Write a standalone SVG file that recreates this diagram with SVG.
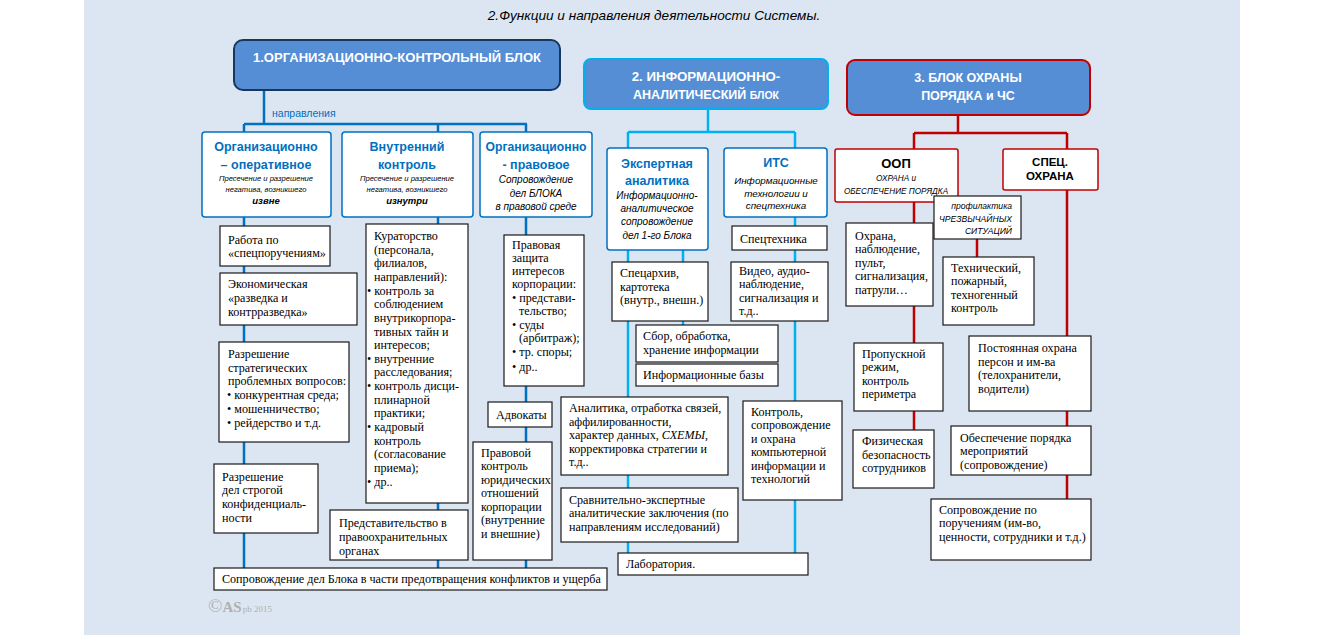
<svg xmlns="http://www.w3.org/2000/svg" width="1324" height="635" viewBox="0 0 1324 635">
<style>
.blk{fill:#558ed5;stroke-width:2}
.bt{font-family:"Liberation Sans",Arial,sans-serif;font-weight:bold;fill:#fff;text-anchor:middle;font-size:12.5px}
.hb{fill:#fff;stroke:#0070c0;stroke-width:1.5}
.hr{fill:#fff;stroke:#c00000;stroke-width:1.5}
.bx{fill:#fff;stroke:#1a1a1a;stroke-width:1.2}
.ht{font-family:"Liberation Sans",Arial,sans-serif;font-weight:bold;font-size:12.5px;fill:#0070c0;text-anchor:middle}
.hk{font-family:"Liberation Sans",Arial,sans-serif;font-weight:bold;font-size:13px;fill:#000;text-anchor:middle}
.it{font-family:"Liberation Sans",Arial,sans-serif;font-style:italic;font-size:7.6px;fill:#000;text-anchor:middle}
.it2{font-family:"Liberation Sans",Arial,sans-serif;font-style:italic;font-size:10px;fill:#000;text-anchor:middle}
.tx{font-family:"Liberation Serif","Times New Roman",serif;font-size:12.1px;fill:#000}
.l1{stroke:#0070c0;stroke-width:2.5;fill:none}
.l2{stroke:#00b0f0;stroke-width:2.5;fill:none}
.l3{stroke:#c00000;stroke-width:2.5;fill:none}
</style>
<rect x="84" y="0" width="1156" height="635" fill="#dce6f2"/>
<text x="654" y="20" font-family="Liberation Sans, Arial, sans-serif" font-style="italic" font-size="13.6" text-anchor="middle" fill="#000">2.Функции и направления деятельности Системы.</text>

<g id="connectors">
<path class="l1" d="M264,89 V124 M244,124 H527 M244,124 V568 M438,124 V568 M526,124 V568"/>
<path class="l2" d="M708,109 V132 M628,132 H795 M628,132 V553 M795,132 V553 M683,250 V325"/>
<path class="l3" d="M958,115 V133 M914,133 H1067 M914,133 V430 M1067,133 V499 M977,239 V257"/>
</g>
<text x="272" y="117" font-family="Liberation Sans, Arial, sans-serif" font-size="10.5" fill="#0070c0">направления</text>

<g id="block1">
<rect class="blk" x="234" y="40" width="326" height="50" rx="9" stroke="#17375e"/>
<text class="bt" x="397" y="62" textLength="288" lengthAdjust="spacingAndGlyphs">1.ОРГАНИЗАЦИОННО-КОНТРОЛЬНЫЙ БЛОК</text>
</g>
<g id="block2">
<rect class="blk" x="584" y="59" width="244" height="50" rx="7" stroke="#00b0f0"/>
<text class="bt" x="706" y="81" style="font-size:13.3px">2. ИНФОРМАЦИОННО-</text>
<text class="bt" x="706" y="99">АНАЛИТИЧЕСКИЙ <tspan style="font-size:10.5px">БЛОК</tspan></text>
</g>
<g id="block3">
<rect class="blk" x="847" y="60" width="243" height="55" rx="8" stroke="#c00000"/>
<text class="bt" x="968" y="82">3. БЛОК ОХРАНЫ</text>
<text class="bt" x="968" y="100">ПОРЯДКА и ЧС</text>
</g>

<g id="org-oper">
<rect class="hb" x="202" y="132" width="129" height="85" rx="3"/>
<text class="ht" x="266" y="151">Организационно</text>
<text class="ht" x="266" y="169">– оперативное</text>
<text class="it" x="266" y="181">Пресечение и  разрешение</text>
<text class="it" x="266" y="192">негатива, возникшего</text>
<text class="it" x="266" y="204" style="font-weight:bold;font-size:9.5px">извне</text>
</g>
<g id="vnutr">
<rect class="hb" x="342" y="132" width="131" height="85" rx="3"/>
<text class="ht" x="407" y="151">Внутренний</text>
<text class="ht" x="407" y="169">контроль</text>
<text class="it" x="407" y="181">Пресечение и  разрешение</text>
<text class="it" x="407" y="192">негатива, возникшего</text>
<text class="it" x="407" y="204" style="font-weight:bold;font-size:9.5px">изнутри</text>
</g>
<g id="org-prav">
<rect class="hb" x="480" y="132" width="112" height="85" rx="3"/>
<text class="ht" x="536" y="151" style="font-size:12.2px">Организационно</text>
<text class="ht" x="536" y="169">- правовое</text>
<text class="it2" x="536" y="183">Сопровождение</text>
<text class="it2" x="536" y="197">дел БЛОКА</text>
<text class="it2" x="536" y="210">в правовой среде</text>
</g>

<g id="rabota">
<rect class="bx" x="220" y="226" width="110" height="40"/>
<text class="tx" x="228" y="244">Работа по</text>
<text class="tx" x="228" y="257">«спецпоручениям»</text>
</g>
<g id="econ">
<rect class="bx" x="220" y="273" width="137" height="52"/>
<text class="tx" x="228" y="288">Экономическая</text>
<text class="tx" x="228" y="302">«разведка  и</text>
<text class="tx" x="228" y="316">контрразведка»</text>
</g>
<g id="strateg">
<rect class="bx" x="219" y="342" width="130" height="100"/>
<text class="tx" x="228" y="358">Разрешение</text>
<text class="tx" x="228" y="372">стратегических</text>
<text class="tx" x="228" y="385">проблемных вопросов:</text>
<text class="tx" x="227" y="399">• конкурентная среда;</text>
<text class="tx" x="227" y="413">• мошенничество;</text>
<text class="tx" x="227" y="427">• рейдерство и т.д.</text>
</g>
<g id="konf">
<rect class="bx" x="214" y="464" width="104" height="69"/>
<text class="tx" x="222" y="481">Разрешение</text>
<text class="tx" x="222" y="494">дел строгой</text>
<text class="tx" x="222" y="508">конфиденциаль-</text>
<text class="tx" x="222" y="522">ности</text>
</g>
<g id="kurator">
<rect class="bx" x="366" y="224" width="102" height="279"/>
<text class="tx" x="374" y="240">Кураторство</text>
<text class="tx" x="374" y="254">(персонала,</text>
<text class="tx" x="374" y="267">филиалов,</text>
<text class="tx" x="374" y="281">направлений):</text>
<text class="tx" x="367" y="295">• контроль за</text>
<text class="tx" x="374" y="308">соблюдением</text>
<text class="tx" x="374" y="322">внутрикорпора-</text>
<text class="tx" x="374" y="336">тивных тайн и</text>
<text class="tx" x="374" y="349">интересов;</text>
<text class="tx" x="367" y="363">• внутренние</text>
<text class="tx" x="374" y="376">расследования;</text>
<text class="tx" x="367" y="390">• контроль дисци-</text>
<text class="tx" x="374" y="404">плинарной</text>
<text class="tx" x="374" y="417">практики;</text>
<text class="tx" x="367" y="431">• кадровый</text>
<text class="tx" x="374" y="445">контроль</text>
<text class="tx" x="374" y="458">(согласование</text>
<text class="tx" x="374" y="472">приема);</text>
<text class="tx" x="367" y="486">• др..</text>
</g>
<g id="predst">
<rect class="bx" x="330" y="510" width="138" height="50"/>
<text class="tx" x="339" y="527">Представительство в</text>
<text class="tx" x="339" y="541">правоохранительных</text>
<text class="tx" x="339" y="555">органах</text>
</g>
<g id="pravzash">
<rect class="bx" x="504" y="235" width="80" height="151"/>
<text class="tx" x="512" y="249">Правовая</text>
<text class="tx" x="512" y="262">защита</text>
<text class="tx" x="512" y="275">интересов</text>
<text class="tx" x="512" y="288">корпорации:</text>
<text class="tx" x="512" y="302">• представи-</text>
<text class="tx" x="519" y="315">тельство;</text>
<text class="tx" x="512" y="329">• суды</text>
<text class="tx" x="519" y="342">(арбитраж);</text>
<text class="tx" x="512" y="356">• тр. споры;</text>
<text class="tx" x="512" y="371">• др..</text>
</g>
<g id="advokaty">
<rect class="bx" x="488" y="402" width="64" height="25"/>
<text class="tx" x="496" y="419">Адвокаты</text>
</g>
<g id="pravkontr">
<rect class="bx" x="473" y="442" width="79" height="118"/>
<text class="tx" x="481" y="457">Правовой</text>
<text class="tx" x="481" y="470">контроль</text>
<text class="tx" x="481" y="484">юридических</text>
<text class="tx" x="481" y="497">отношений</text>
<text class="tx" x="481" y="511">корпорации</text>
<text class="tx" x="481" y="524">(внутренние</text>
<text class="tx" x="481" y="538"> и внешние)</text>
</g>
<g id="soprov1">
<rect class="bx" x="214" y="568" width="393" height="22"/>
<text class="tx" x="222" y="583">Сопровождение дел Блока в части предотвращения конфликтов и ущерба</text>
</g>

<g id="expert">
<rect class="hb" x="607" y="148" width="101" height="102" rx="3"/>
<text class="ht" x="657" y="168">Экспертная</text>
<text class="ht" x="657" y="185">аналитика</text>
<text class="it2" x="657" y="199">Информационно-</text>
<text class="it2" x="657" y="212">аналитическое</text>
<text class="it2" x="657" y="225">сопровождение</text>
<text class="it2" x="657" y="239">дел 1-го Блока</text>
</g>
<g id="its">
<rect class="hb" x="724" y="148" width="103" height="69" rx="3"/>
<text class="ht" x="776" y="167">ИТС</text>
<text class="it2" x="776" y="184" style="font-size:9.8px">Информационные</text>
<text class="it2" x="776" y="197" style="font-size:9.8px">технологии и</text>
<text class="it2" x="776" y="209" style="font-size:9.8px">спецтехника</text>
</g>
<g id="spectech">
<rect class="bx" x="732" y="226" width="95" height="24"/>
<text class="tx" x="740" y="243">Спецтехника</text>
</g>
<g id="specarch">
<rect class="bx" x="612" y="262" width="96" height="59"/>
<text class="tx" x="620" y="277">Спецархив,</text>
<text class="tx" x="620" y="291">картотека</text>
<text class="tx" x="620" y="304">(внутр., внешн.)</text>
</g>
<g id="video">
<rect class="bx" x="731" y="262" width="97" height="59"/>
<text class="tx" x="739" y="275">Видео, аудио-</text>
<text class="tx" x="739" y="288">наблюдение,</text>
<text class="tx" x="739" y="302">сигнализация и</text>
<text class="tx" x="739" y="315">т.д..</text>
</g>
<g id="sbor">
<rect class="bx" x="636" y="325" width="142" height="37"/>
<text class="tx" x="643" y="340">Сбор, обработка,</text>
<text class="tx" x="643" y="354">хранение информации</text>
</g>
<g id="infbazy">
<rect class="bx" x="636" y="364" width="142" height="22"/>
<text class="tx" x="643" y="379">Информационные базы</text>
</g>
<g id="analitika">
<rect class="bx" x="561" y="397" width="167" height="78"/>
<text class="tx" x="569" y="412">Аналитика, отработка связей,</text>
<text class="tx" x="569" y="426">аффилированности,</text>
<text class="tx" x="569" y="439">характер данных, <tspan font-style="italic">СХЕМЫ</tspan>,</text>
<text class="tx" x="569" y="453">корректировка стратегии и</text>
<text class="tx" x="569" y="466">т.д..</text>
</g>
<g id="kontrol-komp">
<rect class="bx" x="743" y="401" width="99" height="99"/>
<text class="tx" x="751" y="416">Контроль,</text>
<text class="tx" x="751" y="429">сопровождение</text>
<text class="tx" x="751" y="443">и охрана</text>
<text class="tx" x="751" y="456">компьютерной</text>
<text class="tx" x="751" y="470">информации и</text>
<text class="tx" x="751" y="483">технологий</text>
</g>
<g id="sravn">
<rect class="bx" x="561" y="488" width="177" height="54"/>
<text class="tx" x="569" y="504">Сравнительно-экспертные</text>
<text class="tx" x="569" y="517">аналитические заключения (по</text>
<text class="tx" x="569" y="531">направлениям исследований)</text>
</g>
<g id="lab">
<rect class="bx" x="618" y="553" width="190" height="22"/>
<text class="tx" x="626" y="568">Лаборатория.</text>
</g>

<g id="oop">
<rect class="hr" x="835" y="149" width="123" height="53" rx="2"/>
<text class="hk" x="896" y="168">ООП</text>
<text class="it" x="896" y="181" style="font-size:8.2px">ОХРАНА и</text>
<text class="it" x="896" y="194" style="font-size:8.2px">ОБЕСПЕЧЕНИЕ ПОРЯДКА</text>
</g>
<g id="spec">
<rect class="hr" x="1003" y="149" width="95" height="41" rx="2"/>
<text class="hk" x="1050" y="166" style="font-size:11.5px">СПЕЦ.</text>
<text class="hk" x="1050" y="180" style="font-size:11.5px">ОХРАНА</text>
</g>
<g id="profil">
<rect class="bx" x="934" y="196" width="87" height="43"/>
<text class="it" x="1012" y="209" style="text-anchor:end;font-size:8.6px">профилактика</text>
<text class="it" x="1012" y="222" style="text-anchor:end;font-size:8.6px">ЧРЕЗВЫЧАЙНЫХ</text>
<text class="it" x="1012" y="234" style="text-anchor:end;font-size:8.6px">СИТУАЦИЙ</text>
</g>
<g id="ohrana">
<rect class="bx" x="846" y="223" width="87" height="83"/>
<text class="tx" x="855" y="240">Охрана,</text>
<text class="tx" x="855" y="253">наблюдение,</text>
<text class="tx" x="855" y="267">пульт,</text>
<text class="tx" x="855" y="280">сигнализация,</text>
<text class="tx" x="855" y="294">патрули…</text>
</g>
<g id="tehn">
<rect class="bx" x="943" y="257" width="91" height="68"/>
<text class="tx" x="951" y="272">Технический,</text>
<text class="tx" x="951" y="285">пожарный,</text>
<text class="tx" x="951" y="299">техногенный</text>
<text class="tx" x="951" y="312">контроль</text>
</g>
<g id="propusk">
<rect class="bx" x="854" y="343" width="89" height="68"/>
<text class="tx" x="862" y="358">Пропускной</text>
<text class="tx" x="862" y="371">режим,</text>
<text class="tx" x="862" y="385">контроль</text>
<text class="tx" x="862" y="398">периметра</text>
</g>
<g id="postoyan">
<rect class="bx" x="969" y="336" width="122" height="75"/>
<text class="tx" x="978" y="352">Постоянная охрана</text>
<text class="tx" x="978" y="366">персон и им-ва</text>
<text class="tx" x="978" y="379">(телохранители,</text>
<text class="tx" x="978" y="393">водители)</text>
</g>
<g id="fizich">
<rect class="bx" x="853" y="430" width="81" height="58"/>
<text class="tx" x="862" y="445">Физическая</text>
<text class="tx" x="862" y="459">безопасность</text>
<text class="tx" x="862" y="472">сотрудников</text>
</g>
<g id="obespech">
<rect class="bx" x="951" y="426" width="140" height="49"/>
<text class="tx" x="960" y="442">Обеспечение порядка</text>
<text class="tx" x="960" y="455">мероприятий</text>
<text class="tx" x="960" y="469">(сопровождение)</text>
</g>
<g id="soprov-poruch">
<rect class="bx" x="931" y="499" width="160" height="61"/>
<text class="tx" x="939" y="514">Сопровождение по</text>
<text class="tx" x="939" y="527">поручениям (им-во,</text>
<text class="tx" x="939" y="541">ценности, сотрудники и т.д.)</text>
</g>

<text x="208" y="612" font-family="Liberation Serif, serif" fill="#b0b0b0"><tspan font-size="19">©</tspan><tspan font-size="15" font-weight="bold">AS</tspan><tspan font-size="9" dx="1">pb 2015</tspan></text>
</svg>
